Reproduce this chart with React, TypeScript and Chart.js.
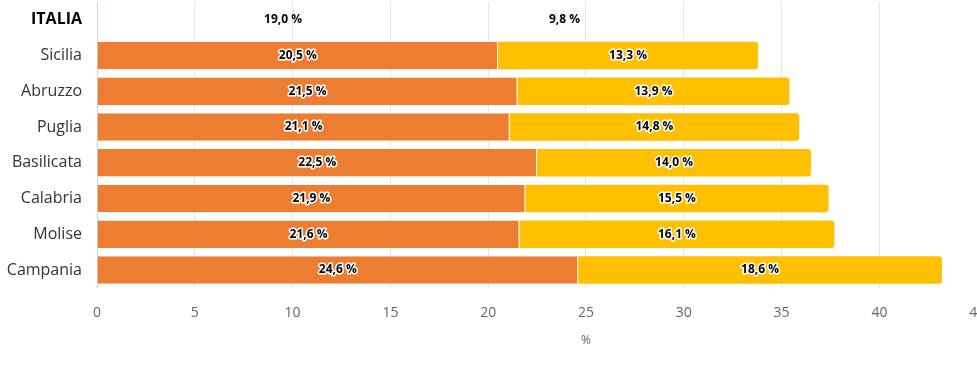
import React, { useEffect, useRef } from "react";
import { Chart, registerables } from "chart.js";

Chart.register(...registerables);

const categories = ["ITALIA", "Sicilia", "Abruzzo", "Puglia", "Basilicata", "Calabria", "Molise", "Campania"];
const seriesA = [19.0, 20.5, 21.5, 21.1, 22.5, 21.9, 21.6, 24.6];
const seriesB = [9.8, 13.3, 13.9, 14.8, 14.0, 15.5, 16.1, 18.6];
const xTicks = [0, 5, 10, 15, 20, 25, 30, 35, 40, 45, 50];

const ORANGE = "#ED7D31";
const YELLOW = "#FFC000";
const FONT = "'Open Sans', 'Noto Sans', sans-serif";

const labelPlugin = {
  id: "segLabels",
  afterDatasetsDraw(chart: any) {
    const ctx = chart.ctx;
    ctx.save();
    ctx.font = `bold 12px ${FONT}`;
    ctx.textAlign = "center";
    ctx.textBaseline = "middle";
    ctx.lineJoin = "round";
    chart.data.datasets.forEach((ds: any, di: number) => {
      const meta = chart.getDatasetMeta(di);
      meta.data.forEach((bar: any, i: number) => {
        const v = ds.data[i];
        const txt = v.toFixed(1).replace(".", ",") + " %";
        const x = (bar.x + bar.base) / 2;
        const y = bar.y;
        if (i !== 0) {
          ctx.strokeStyle = "#ffffff";
          ctx.lineWidth = 3;
          ctx.strokeText(txt, x, y);
        }
        ctx.fillStyle = "#000000";
        ctx.fillText(txt, x, y);
      });
    });
    ctx.restore();
  },
};

export default function App() {
  const ref = useRef<HTMLCanvasElement>(null);
  useEffect(() => {
    if (!ref.current) return;
    const colorsA = categories.map((_, i) => (i === 0 ? "rgba(0,0,0,0)" : ORANGE));
    const colorsB = categories.map((_, i) => (i === 0 ? "rgba(0,0,0,0)" : YELLOW));
    const chart = new Chart(ref.current, {
      type: "bar",
      data: {
        labels: categories,
        datasets: [
          {
            label: "A",
            data: seriesA,
            backgroundColor: colorsA,
            borderColor: categories.map((_, i) => (i === 0 ? "rgba(0,0,0,0)" : "#ffffff")),
            borderWidth: { right: 1 } as any,
            borderSkipped: false,
            categoryPercentage: 1,
            barPercentage: 0.77,
          },
          {
            label: "B",
            data: seriesB,
            backgroundColor: colorsB,
            borderWidth: 0,
            borderRadius: { topRight: 3, bottomRight: 3, topLeft: 0, bottomLeft: 0 } as any,
            borderSkipped: false,
            categoryPercentage: 1,
            barPercentage: 0.77,
          },
        ],
      },
      options: {
        indexAxis: "y",
        animation: false,
        responsive: true,
        maintainAspectRatio: false,
        layout: { padding: { top: 2, right: 23, left: 0, bottom: 21 } },
        plugins: {
          legend: { display: false },
          tooltip: { enabled: false },
        },
        scales: {
          x: {
            stacked: true,
            min: 0,
            max: 50,
            afterBuildTicks: (scale: any) => {
              scale.ticks = xTicks.map((v) => ({ value: v }));
            },
            grid: { color: "#e6e6e6", drawTicks: false },
            border: { display: false },
            ticks: {
              padding: 17,
              color: "#666666",
              font: { family: FONT, size: 14 },
            },
            title: {
              display: true,
              text: "%",
              color: "#666666",
              font: { family: FONT, size: 12 },
              padding: { top: -5, bottom: 0 },
            },
          },
          y: {
            stacked: true,
            afterFit: (scale: any) => {
              scale.width = 97;
              scale.paddingTop = 0;
              scale.paddingBottom = 0;
            },
            grid: { display: false },
            border: { display: true, color: "#ccd6eb", width: 1 },
            ticks: {
              padding: 7,
              color: (c: any) => (c.index === 0 ? "#000000" : "#333333"),
              font: (c: any) =>
                c.index === 0
                  ? { family: FONT, size: 16, weight: "bold" }
                  : { family: FONT, size: 16 },
            },
          },
        },
      },
      plugins: [labelPlugin],
    });
    return () => chart.destroy();
  }, []);
  return (
    <div style={{ position: "fixed", left: 0, top: 0, width: 1100, height: 369 }}>
      <canvas ref={ref} />
    </div>
  );
}
